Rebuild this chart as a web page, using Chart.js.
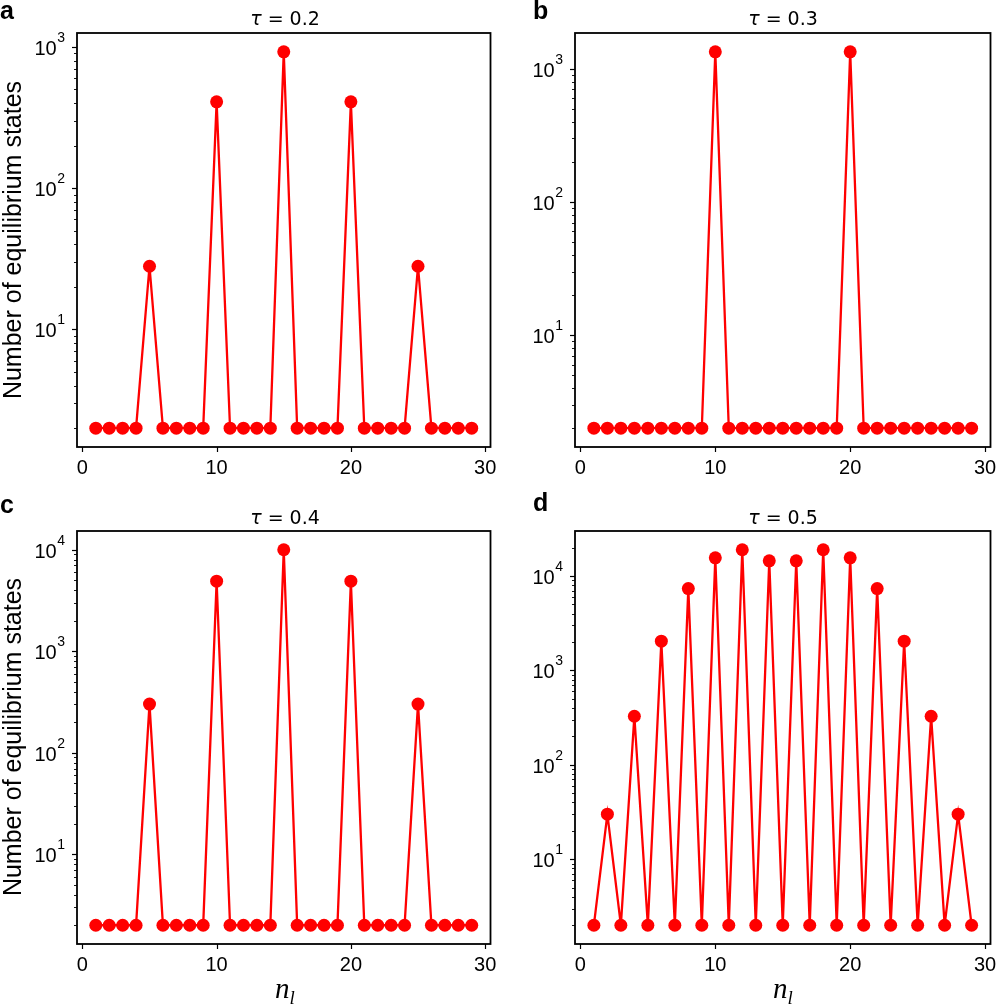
<!DOCTYPE html>
<html>
<head>
<meta charset="utf-8">
<script src="https://cdn.jsdelivr.net/npm/chart.js@4.4.1/dist/chart.umd.min.js"></script>
<style>
  body { margin: 0; background: #fff; }
  #fig { position: relative; width: 997px; height: 1005px; overflow: hidden; }
  canvas { position: absolute; }
  .txt { position: absolute; font-family: "Liberation Sans", Arial, sans-serif; color: #000; white-space: nowrap; line-height: 1; }
  .letra { font-weight: bold; font-size: 25px; }
  .titulo { font-family: "DejaVu Sans", sans-serif; font-size: 19px; transform: translate(-50%, -50%); }
  .ylab { font-size: 25px; transform: translate(-50%, -50%) rotate(-90deg); }
  .xlab { font-family: "Liberation Serif", "DejaVu Serif", serif; font-style: italic; font-size: 29px; transform: translate(-50%, -50%); }
  .xlab sub { font-size: 19px; vertical-align: -6px; }
</style>
</head>
<body>
<div id="fig">
  <canvas id="gA" width="497" height="490" style="left:0px;top:0px"></canvas>
  <canvas id="gB" width="500" height="490" style="left:497px;top:0px"></canvas>
  <canvas id="gC" width="497" height="515" style="left:0px;top:490px"></canvas>
  <canvas id="gD" width="500" height="515" style="left:497px;top:490px"></canvas>

  <div class="txt letra" style="left:0px;top:-2px">a</div>
  <div class="txt letra" style="left:533px;top:-2px">b</div>
  <div class="txt letra" style="left:0px;top:492px">c</div>
  <div class="txt letra" style="left:533px;top:490px">d</div>

  <div class="txt titulo" style="left:285px;top:18px"><i>τ</i> = 0.2</div>
  <div class="txt titulo" style="left:783px;top:18px"><i>τ</i> = 0.3</div>
  <div class="txt titulo" style="left:285px;top:517px"><i>τ</i> = 0.4</div>
  <div class="txt titulo" style="left:783px;top:517px"><i>τ</i> = 0.5</div>

  <div class="txt ylab" style="left:12px;top:240px">Number of equilibrium states</div>
  <div class="txt ylab" style="left:12px;top:737px">Number of equilibrium states</div>

  <div class="txt xlab" style="left:285px;top:990px">n<sub>l</sub></div>
  <div class="txt xlab" style="left:783px;top:990px">n<sub>l</sub></div>
</div>
<script>
// dados
const nl = [1, 2, 3, 4, 5, 6, 7, 8, 9, 10, 11, 12, 13, 14, 15, 16, 17, 18, 19, 20, 21, 22, 23, 24, 25, 26, 27, 28, 29];
const tau02 = [2, 2, 2, 2, 28, 2, 2, 2, 2, 408, 2, 2, 2, 2, 922, 2, 2, 2, 2, 408, 2, 2, 2, 2, 28, 2, 2, 2, 2];
const tau03 = [2, 2, 2, 2, 2, 2, 2, 2, 2, 1340, 2, 2, 2, 2, 2, 2, 2, 2, 2, 1340, 2, 2, 2, 2, 2, 2, 2, 2, 2];
const tau04 = [2, 2, 2, 2, 302, 2, 2, 2, 2, 4900, 2, 2, 2, 2, 10000, 2, 2, 2, 2, 4900, 2, 2, 2, 2, 302, 2, 2, 2, 2];
const tau05 = [2, 30, 2, 327, 2, 2040, 2, 7360, 2, 15600, 2, 18970, 2, 14500, 2, 14500, 2, 18970, 2, 15600, 2, 7360, 2, 2040, 2, 327, 2, 30, 2];
const xTicks = [0, 10, 20, 30];

const fam = '"Liberation Sans", Arial, sans-serif';
const fonteTick = { family: fam, size: 20 };

// moldura, marcas dos ticks e rotulos 10^n com expoente
const moldura = {
  id: 'moldura',
  afterDraw(chart) {
    const {ctx, chartArea: a, scales: {x, y}} = chart;
    ctx.save();
    ctx.strokeStyle = '#000';
    ctx.fillStyle = '#000';
    ctx.lineWidth = 1.2;
    x.ticks.forEach(t => {
      const px = Math.round(x.getPixelForValue(t.value)) + 0.5;
      ctx.beginPath(); ctx.moveTo(px, a.bottom); ctx.lineTo(px, a.bottom + 5); ctx.stroke();
    });
    y.ticks.forEach(t => {
      const py = Math.round(y.getPixelForValue(t.value)) + 0.5;
      const len = t.major ? 5 : 3;
      ctx.lineWidth = t.major ? 1.2 : 0.9;
      ctx.beginPath(); ctx.moveTo(a.left, py); ctx.lineTo(a.left - len, py); ctx.stroke();
      if (t.major) {
        const ex = String(t.exp);
        ctx.font = '14px ' + fam;
        ctx.textAlign = 'right';
        ctx.textBaseline = 'alphabetic';
        const wEx = ctx.measureText(ex).width;
        const xr = a.left - 12;
        ctx.fillText(ex, xr, py - 6);
        ctx.font = '20px ' + fam;
        ctx.fillText('10', xr - wEx - 0.5, py + 7);
      }
    });
    ctx.lineWidth = 1.8;
    ctx.strokeRect(a.left, a.top, a.right - a.left, a.bottom - a.top);
    ctx.restore();
  }
};

const painel = (id, valores, area) => {
  const canvas = document.getElementById(id);
  // limites como no matplotlib (margem de 5%)
  const lmin = Math.log10(Math.min(...valores));
  const lmax = Math.log10(Math.max(...valores));
  const m = (lmax - lmin) * 0.05;
  const ymin = Math.pow(10, lmin - m);
  const ymax = Math.pow(10, lmax + m);
  const xm = (nl[nl.length - 1] - nl[0]) * 0.05;

  return new Chart(canvas.getContext('2d'), {
    type: 'line',
    data: {
      datasets: [{
        data: nl.map((n, i) => ({x: n, y: valores[i]})),
        borderColor: '#ff0000',
        backgroundColor: '#ff0000',
        borderWidth: 2.3,
        pointRadius: 6.5,
        pointBorderWidth: 0,
        pointBackgroundColor: '#ff0000',
        tension: 0
      }]
    },
    plugins: [moldura],
    options: {
      responsive: false,
      animation: false,
      devicePixelRatio: 1,
      layout: { padding: { left: 0, top: area.top, right: area.right, bottom: 0 } },
      plugins: { legend: { display: false }, tooltip: { enabled: false }, title: { display: false } },
      scales: {
        x: {
          type: 'linear',
          min: nl[0] - xm,
          max: nl[nl.length - 1] + xm,
          afterBuildTicks: (s) => { s.ticks = xTicks.map(v => ({value: v})); },
          afterFit: (s) => { s.height = area.xh; s.paddingLeft = 0; s.paddingRight = 0; },
          grid: { display: true, drawOnChartArea: false, drawTicks: true, tickLength: 5, tickColor: 'rgba(0,0,0,0)' },
          border: { display: false },
          ticks: { color: '#000', font: fonteTick, padding: 4, autoSkip: false, maxRotation: 0 }
        },
        y: {
          type: 'logarithmic',
          min: ymin,
          max: ymax,
          afterBuildTicks: (s) => {
            const t = [];
            for (let e = -1; e <= 6; e++) {
              for (let k = 1; k <= 9; k++) {
                const v = k * Math.pow(10, e);
                if (v >= ymin && v <= ymax) t.push({value: v, major: k === 1, exp: e});
              }
            }
            s.ticks = t;
          },
          afterFit: (s) => { s.width = area.left; s.paddingTop = 0; s.paddingBottom = 0; },
          grid: { display: true, drawOnChartArea: false, drawTicks: true, tickLength: 6, tickColor: 'rgba(0,0,0,0)' },
          border: { display: false },
          ticks: { display: false, autoSkip: false }
        }
      }
    }
  });
};

painel('gA', tau02, {left: 77, right: 4, top: 33, xh: 43});
painel('gB', tau03, {left: 78, right: 5, top: 33, xh: 43});
painel('gC', tau04, {left: 77, right: 4, top: 41, xh: 61});
painel('gD', tau05, {left: 78, right: 5, top: 41, xh: 61});
</script>
</body>
</html>
